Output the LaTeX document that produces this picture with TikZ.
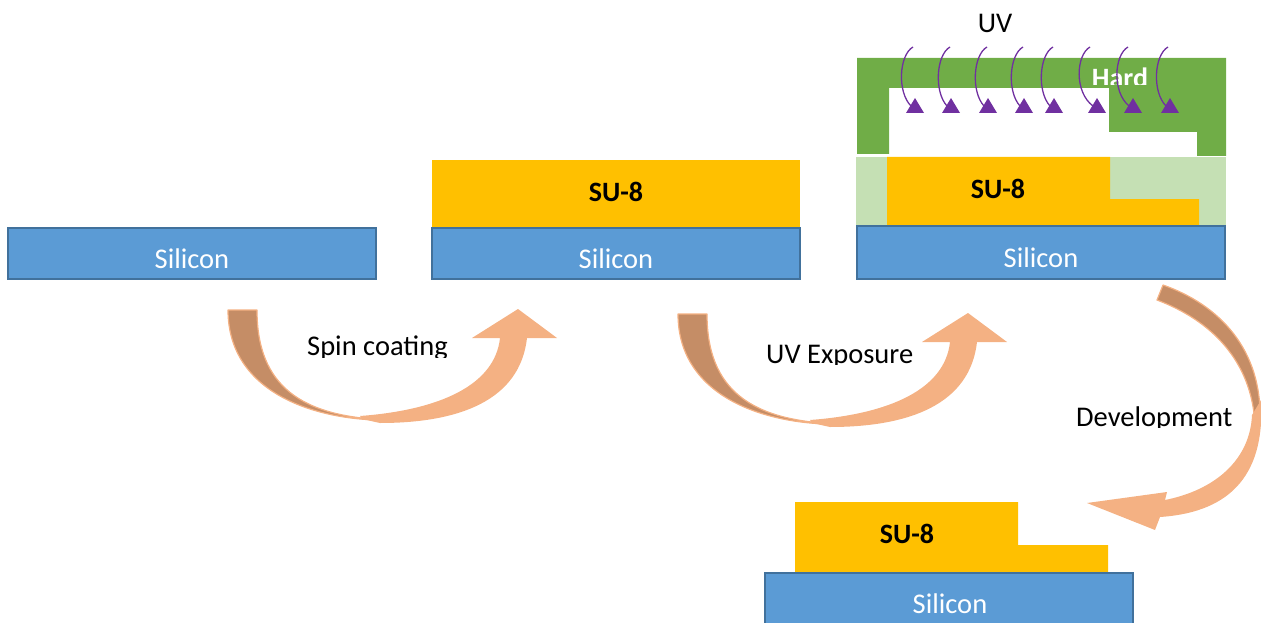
\documentclass[tikz,border=0pt]{standalone}
\usepackage{fontspec}
\setmainfont{Carlito}
\definecolor{sifill}{HTML}{5B9BD5}
\definecolor{siedge}{HTML}{41719C}
\definecolor{su8}{HTML}{FFC000}
\definecolor{maskgreen}{HTML}{70AD47}
\definecolor{lightgreen}{HTML}{C5E0B4}
\definecolor{uvpurple}{HTML}{7030A0}
\definecolor{arrowlight}{HTML}{F4B183}
\definecolor{arrowdark}{HTML}{C58D66}
\begin{document}
\begin{tikzpicture}[x=1pt,y=-1pt,
  silicon/.style={draw=siedge, line width=2pt, fill=sifill, inner sep=0pt, minimum width=368pt},
  resist/.style={fill=su8, draw=none},
  sitext/.style={text=white, font=\fontsize{28.5}{30}\selectfont, anchor=base, inner sep=0pt},
  sutext/.style={text=black, font=\bfseries\fontsize{28}{30}\selectfont, anchor=base, inner sep=0pt},
  steplabel/.style={text=black, font=\fontsize{28.5}{30}\selectfont, anchor=base west, inner sep=0pt},
  uvray/.style={draw=uvpurple, line width=1.3pt},
  backface/.style={fill=arrowdark, draw=arrowlight, line width=1.2pt, line join=round},
  frontface/.style={fill=arrowlight, draw=none}]
\useasboundingbox (0,0) rectangle (1261,623);
\clip (0,0) rectangle (1261,623);

% ---- stage 1: bare wafer
\node[silicon, minimum height=51pt] (si1) at (192,253.5) {};
\node[sitext] (si1t) at (192,268) {Silicon};

% ---- stage 2: coated wafer
\node[resist, minimum width=368pt, minimum height=68pt, inner sep=0pt] (su2) at (616,194) {};
\node[silicon, minimum height=51pt] (si2) at (616,253.5) {};
\node[sutext] (su2t) at (616,201) {SU-8};
\node[sitext] (si2t) at (616,268) {Silicon};

% ---- stage 3: exposure through the hard mask
\fill[lightgreen] (856,157) rectangle (1226,226);
\path[resist] (887,157) -- (1110,157) -- (1110,199) -- (1199,199) -- (1199,228) -- (887,228) -- cycle;
\node[silicon, minimum height=53pt] (si3) at (1041,252.5) {};
\node[sutext] (su3t) at (998,198) {SU-8};
\node[sitext] (si3t) at (1041,267) {Silicon};
\fill[maskgreen] (857,58) -- (1226,58) -- (1226,156) -- (1197,156) -- (1197,132)
  -- (1109,132) -- (1109,88) -- (889,88) -- (889,154) -- (857,154) -- cycle;
\begin{scope}
  \clip (1080,60) rectangle (1165,85);
  \node[text=white, font=\bfseries\fontsize{28}{30}\selectfont, anchor=base, inner sep=0pt] (hard) at (1120,88) {Hard};
\end{scope}
\node[text=black, font=\fontsize{28.5}{30}\selectfont, anchor=base, inner sep=0pt] (uv) at (995,33) {UV};
\foreach \t/\c in {913/915, 950/951, 987/988, 1023/1024, 1053/1054, 1090/1097, 1128/1133, 1168/1170}{
  \draw[uvray] (\t,47) .. controls (\t-14,55) and (\t-16,92) .. (\c-4,106);
  \fill[uvpurple] (\c,98) -- (\c+9,113) -- (\c-9,113) -- cycle;
}

% ---- stage 4: developed structure
\path[resist] (795,502) -- (1018,502) -- (1018,545) -- (1108,545) -- (1108,573) -- (795,573) -- cycle;
\node[silicon, minimum height=70pt] (si4) at (949,608) {};
\node[sutext] (su4t) at (907,543) {SU-8};
\node[sitext] (si4t) at (950,613) {Silicon};

% ---- curved process arrows
\newcommand{\uparc}{%
  \path[backface] (228,310) -- (257,310) .. controls (257,385) and (300,418) .. (392,420)
    .. controls (320,422) and (228,395) .. (228,310) -- cycle;
  \path[frontface] (360,416) .. controls (440,410) and (495,385) .. (500,338) -- (472,338)
    -- (518,309) -- (557,338) -- (527,338) .. controls (520,400) and (460,423) .. (380,423)
    -- (362,419) -- cycle;
}
\uparc
\begin{scope}[shift={(450,4)}]
  \uparc
\end{scope}
\path[backface] (1157,300) -- (1163,285) .. controls (1220,305) and (1262,350) .. (1260,420)
  -- (1255,425) .. controls (1252,360) and (1210,320) .. (1157,300) -- cycle;
\path[frontface] (1261,400) .. controls (1265,470) and (1235,512) .. (1160,517) -- (1155,530)
  -- (1087,503) -- (1167,492) -- (1165,500) .. controls (1215,490) and (1250,460) .. (1252,415) -- cycle;

% ---- step labels (bottom of the text boxes trims the descenders)
\begin{scope}
  \clip (300,320) rectangle (470,357);
  \node[steplabel] (spin) at (307,355) {Spin coating};
\end{scope}
\begin{scope}
  \clip (760,330) rectangle (930,364.5);
  \node[steplabel] (expo) at (766,363) {UV Exposure};
\end{scope}
\begin{scope}
  \clip (1070,395) rectangle (1245,427);
  \node[steplabel] (devel) at (1076,426) {Development};
\end{scope}
\end{tikzpicture}
\end{document}
